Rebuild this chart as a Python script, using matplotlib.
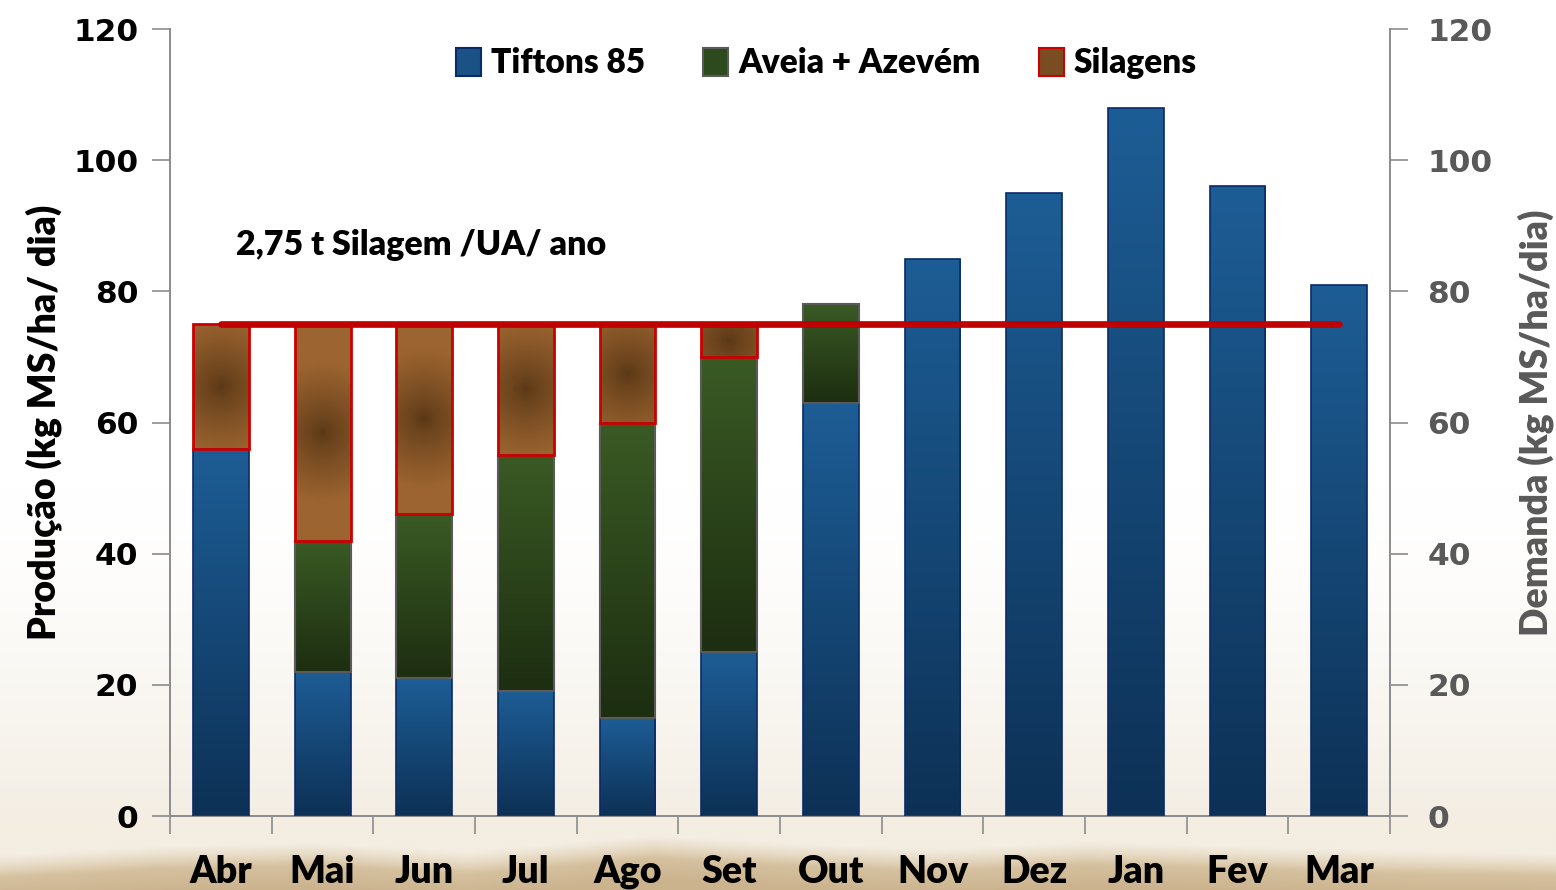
import numpy as np
import matplotlib
matplotlib.use("Agg")
import matplotlib.pyplot as plt
from matplotlib.patches import Rectangle
from matplotlib.colors import to_rgb

# data
meses = ["Abr", "Mai", "Jun", "Jul", "Ago", "Set", "Out", "Nov", "Dez", "Jan", "Fev", "Mar"]
tifton = [56, 22, 21, 19, 15, 25, 63, 85, 95, 108, 96, 81]
aveia = [0, 20, 25, 36, 45, 45, 15, 0, 0, 0, 0, 0]
silagem = [19, 33, 29, 20, 15, 5, 0, 0, 0, 0, 0, 0]
demanda = [75] * 12

W, H = 1556, 890
fig = plt.figure(figsize=(W / 100, H / 100), dpi=100)

# background: white fading to sand with a low hill band at the bottom
bg = fig.add_axes([0, 0, 1, 1], zorder=-10)
bg.axis("off")
nr, nc = 445, 778
t = np.linspace(0, 1, nr)[:, None]
xs = np.linspace(0, 1, nc)[None, :]
white = np.array(to_rgb("#ffffff"))
cream = np.array(to_rgb("#f3ede2"))
sand = np.array(to_rgb("#e0cfb0"))
dark = np.array(to_rgb("#cbb38e"))
k = np.clip((t - 0.55) / 0.38, 0, 1) ** 1.5
img = white * (1 - k[..., None]) + cream * k[..., None]
img = np.broadcast_to(img, (nr, nc, 3)).copy()
hx = [0, 0.1, 0.2, 0.3, 0.42, 0.5, 0.6, 0.7, 0.8, 0.9, 1.0]
hy = [0.962, 0.952, 0.948, 0.958, 0.94, 0.948, 0.955, 0.947, 0.952, 0.957, 0.96]
horizon = np.interp(xs[0], hx, hy)[None, :]
m = np.clip((t - horizon) / 0.025, 0, 1)
depth = np.clip((t - horizon) / 0.05, 0, 1)
hill = sand * (1 - depth[..., None]) + dark * depth[..., None]
img = img * (1 - m[..., None]) + hill * m[..., None]
bg.imshow(img, extent=[0, 1, 0, 1], aspect="auto", interpolation="bilinear")
bg.set_xlim(0, 1)
bg.set_ylim(0, 1)

ax = fig.add_axes([0.1093, 0.0831, 0.7840, 0.8843])
ax.set_facecolor("none")
x = np.arange(len(meses))
bw = 0.55


def vgrad(top, bottom, n=64):
    a = np.array(to_rgb(top))
    b = np.array(to_rgb(bottom))
    s = np.linspace(0, 1, n)[:, None]
    return (a * (1 - s) + b * s)[:, None, :]


def radial(wpx, hpx, center, edge, R=70, n=80):
    c = np.array(to_rgb(center))
    e = np.array(to_rgb(edge))
    u = (np.linspace(0, 1, n)[None, :] - 0.5) * wpx
    v = (np.linspace(0, 1, n)[:, None] - 0.5) * hpx
    r = np.clip(np.sqrt(u ** 2 + v ** 2) / R, 0, 1) ** 0.8
    return c * (1 - r[..., None]) + e * r[..., None]


ypx = 787 / 120.0
xpx = 1220 / 12.0


def fill_bars(bottoms, heights, edge, lw, kind):
    for xi, b0, h in zip(x, bottoms, heights):
        if h <= 0:
            continue
        rect = Rectangle((xi - bw / 2, b0), bw, h, facecolor="none", edgecolor="none")
        ax.add_patch(rect)
        if kind == "blue":
            g = vgrad("#1d5d95", "#0d3156")
        elif kind == "green":
            g = vgrad("#3a5a24", "#1d2e11")
        else:
            g = radial(bw * xpx, h * ypx, "#5a3816", "#9c6430")
        im = ax.imshow(g, extent=[xi - bw / 2, xi + bw / 2, b0, b0 + h],
                       aspect="auto", interpolation="bilinear", zorder=2)
        im.set_clip_path(rect)
        ax.add_patch(Rectangle((xi - bw / 2, b0), bw, h, fill=False,
                               edgecolor=edge, linewidth=lw, zorder=3))


base2 = np.array(tifton)
base3 = base2 + np.array(aveia)
fill_bars(np.zeros(12), tifton, "#0b2a6a", 1.2, "blue")
fill_bars(base2, aveia, "#5a5a5a", 1.5, "green")
fill_bars(base3, silagem, "#cc0000", 2.0, "brown")

ax.plot(x, demanda, color="#c00000", lw=4.8, solid_capstyle="round", zorder=5)

fnt = "Lato"
fw = "heavy"

ax.set_xlim(-0.5, 11.5)
ax.set_ylim(0, 120)
ax.set_yticks(range(0, 121, 20))
ax.set_xticks(np.arange(-0.5, 12, 1))
ax.set_xticklabels([])
ax.set_xticks(x, minor=True)
ax.set_xticklabels(meses, minor=True, fontfamily=fnt, fontweight=fw, fontsize=27)
ax.tick_params(axis="x", which="minor", length=0, pad=28)
ax.tick_params(axis="x", which="major", length=13, color="#8c8c8c", width=1.2)
ax.tick_params(axis="y", length=13, color="#8c8c8c", width=1.2, labelsize=22.5, pad=10)
for lab in ax.get_yticklabels():
    lab.set_fontfamily("DejaVu Sans")
    lab.set_fontweight("bold")
for s in ["top", "right"]:
    ax.spines[s].set_visible(False)
for s in ["left", "bottom"]:
    ax.spines[s].set_color("#8c8c8c")
    ax.spines[s].set_linewidth(1.4)
ax.set_ylabel("Produção (kg MS/ha/ dia)", fontfamily=fnt, fontweight=fw,
              fontsize=27, labelpad=8)

ax2 = ax.twinx()
ax2.set_ylim(0, 120)
ax2.set_yticks(range(0, 121, 20))
ax2.tick_params(axis="y", length=13, color="#8c8c8c", width=1.2, labelsize=22.5,
                pad=14, labelcolor="#595959")
for lab in ax2.get_yticklabels():
    lab.set_fontfamily("DejaVu Sans")
    lab.set_fontweight("bold")
for s in ["top", "left", "bottom"]:
    ax2.spines[s].set_visible(False)
ax2.spines["right"].set_color("#8c8c8c")
ax2.spines["right"].set_linewidth(1.4)
ax2.set_ylabel("Demanda (kg MS/ha/dia)", fontfamily=fnt, fontweight=fw,
               fontsize=27, color="#595959", labelpad=18)

ax.text(0.15, 87, "2,75 t Silagem /UA/ ano", fontfamily=fnt, fontweight=fw,
        fontsize=24.5, va="center", ha="left", zorder=6)

# legend
handles = [
    Rectangle((0, 0), 1, 1, facecolor="#1a5286", edgecolor="#0b2a6a", lw=1.5),
    Rectangle((0, 0), 1, 1, facecolor="#2c4a1c", edgecolor="#5a5a5a", lw=1.5),
    Rectangle((0, 0), 1, 1, facecolor="#7a4c22", edgecolor="#cc0000", lw=1.5),
]
leg = ax.legend(handles, ["Tiftons 85", "Aveia + Azevém", "Silagens"], loc="upper center",
                bbox_to_anchor=(0.538, 1.015), ncol=3, frameon=False, handlelength=0.75,
                handleheight=0.9, handletextpad=0.3, columnspacing=1.75,
                prop={"family": fnt, "weight": fw, "size": 24})

fig.savefig("out.png", dpi=100)
